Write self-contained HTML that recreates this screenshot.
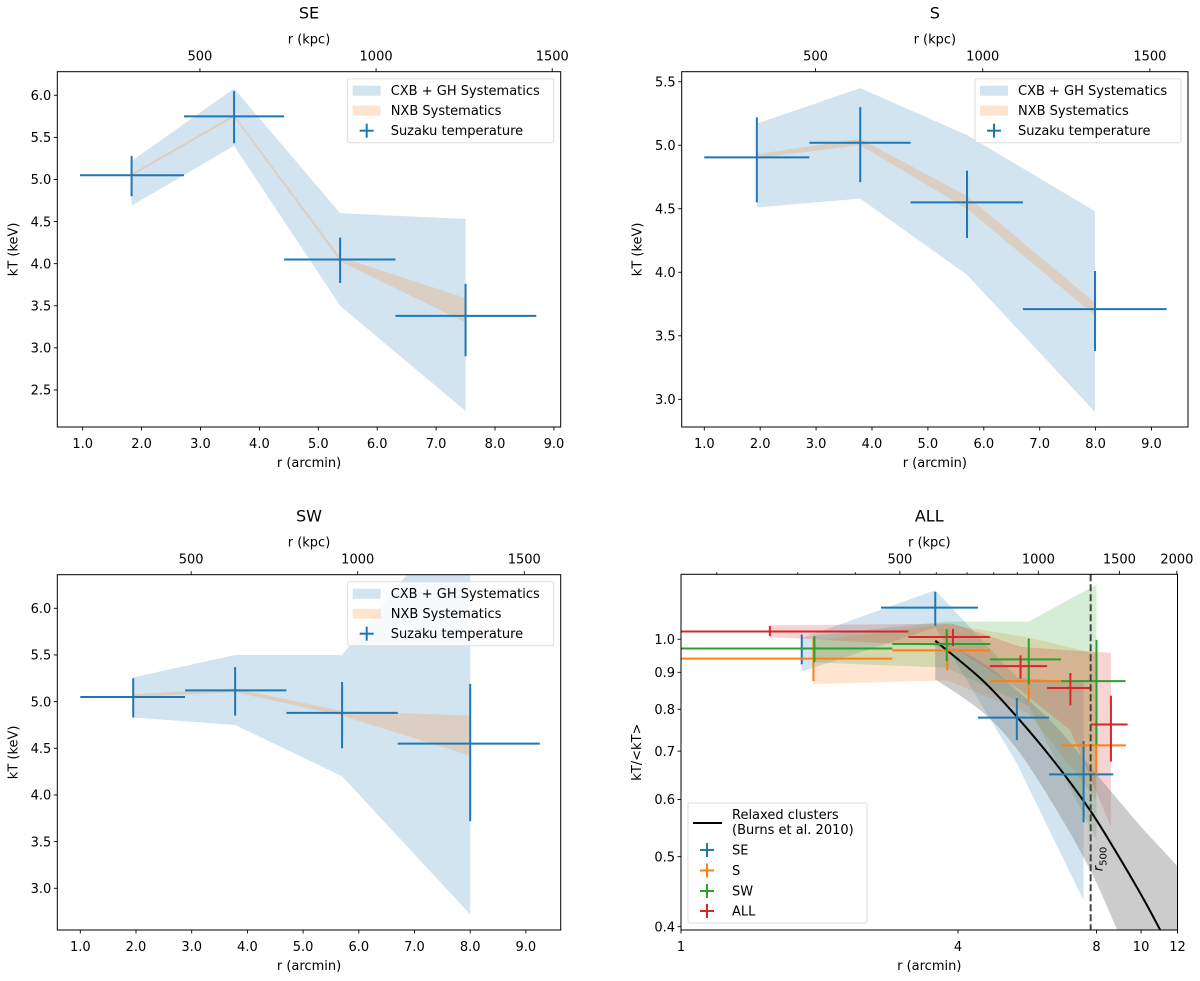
<!DOCTYPE html>
<html><head><meta charset="utf-8"><title>Temperature profiles</title>
<style>
html,body{margin:0;padding:0;background:#fff;width:1200px;height:981px;overflow:hidden;}
svg{display:block;font-family:"DejaVu Sans","Liberation Sans",sans-serif;}
</style></head>
<body>
<svg id="fig" width="1200" height="981" viewBox="0 0 1200 981" xmlns="http://www.w3.org/2000/svg"></svg>
<script>
// ---------- DATA ----------
const xTicksLin = [1,2,3,4,5,6,7,8,9];
const kpcTicks = [500,1000,1500];
const kpcPerArcmin = 167.2;

const SE_r = [1.83,3.57,5.37,7.5];
const SE_rLo = [0.955,2.72,4.42,6.31];
const SE_rHi = [2.72,4.42,6.31,8.7];
const SE_kT = [5.05,5.75,4.05,3.38];
const SE_kTLo = [4.80,5.43,3.77,2.90];
const SE_kTHi = [5.28,6.05,4.31,3.76];
const SE_cxbLo = [4.69,5.40,3.50,2.25];
const SE_cxbHi = [5.22,6.08,4.60,4.53];
const SE_nxbLo = [5.04,5.74,4.03,3.30];
const SE_nxbHi = [5.07,5.77,4.08,3.59];
const SE_yTicks = [2.5,3.0,3.5,4.0,4.5,5.0,5.5,6.0];

const S_r = [1.94,3.79,5.7,7.99];
const S_rLo = [1.0,2.88,4.69,6.7];
const S_rHi = [2.88,4.69,6.7,9.27];
const S_kT = [4.905,5.02,4.55,3.71];
const S_kTLo = [4.55,4.71,4.27,3.38];
const S_kTHi = [5.22,5.30,4.80,4.01];
const S_cxbLo = [4.51,4.58,3.98,2.90];
const S_cxbHi = [5.17,5.45,5.08,4.48];
const S_nxbLo = [4.90,5.00,4.50,3.66];
const S_nxbHi = [4.93,5.05,4.60,3.76];
const S_yTicks = [3.0,3.5,4.0,4.5,5.0,5.5];

const SW_r = [1.95,3.78,5.7,8.0];
const SW_rLo = [1.0,2.88,4.7,6.7];
const SW_rHi = [2.88,4.7,6.7,9.25];
const SW_kT = [5.05,5.12,4.88,4.55];
const SW_kTLo = [4.83,4.85,4.50,3.72];
const SW_kTHi = [5.25,5.37,5.21,5.19];
const SW_cxbLo = [4.83,4.75,4.20,2.72];
const SW_cxbHi = [5.26,5.50,5.50,7.20];
const SW_nxbLo = [5.05,5.10,4.85,4.42];
const SW_nxbHi = [5.08,5.14,4.90,4.85];
const SW_yTicks = [3.0,3.5,4.0,4.5,5.0,5.5,6.0];

// ALL panel (normalised)
const ALL_xTicks = [1,4,8,10,12];
const ALL_yTicks = [0.4,0.5,0.6,0.7,0.8,0.9,1.0];
const ALL_kpcMajor = [500,1000,1500,2000];
const ALL_kpcMinor = [200,300,400,600,700,800,900];

const nSE_v = [0.971,1.106,0.779,0.650];
const nSE_lo = [0.923,1.044,0.725,0.558];
const nSE_hi = [1.015,1.163,0.829,0.723];
const nSE_bLo = [0.902,1.038,0.673,0.435];
const nSE_bHi = [1.004,1.169,0.885,0.871];

const nS_v = [0.940,0.965,0.875,0.713];
const nS_lo = [0.875,0.905,0.822,0.650];
const nS_hi = [1.005,1.020,0.922,0.772];
const nS_bLo = [0.867,0.877,0.790,0.600];
const nS_bHi = [0.994,1.050,1.005,0.955];

const nSW_v = [0.971,0.985,0.938,0.875];
const nSW_lo = [0.929,0.933,0.866,0.715];
const nSW_hi = [1.010,1.033,1.002,0.998];
const nSW_bLo = [0.929,0.913,0.808,0.527];
const nSW_bHi = [1.012,1.058,1.058,1.190];

const nALL_r = [1.56,3.90,5.47,7.02,8.60];
const nALL_rLo = [1.0,3.12,4.69,6.25,7.78];
const nALL_rHi = [3.12,4.69,6.25,7.78,9.35];
const nALL_v = [1.025,1.007,0.918,0.856,0.762];
const nALL_lo = [1.010,0.978,0.882,0.810,0.677];
const nALL_hi = [1.043,1.034,0.950,0.898,0.835];
const nALL_bLo = [1.007,0.976,0.850,0.748,0.550];
const nALL_bHi = [1.045,1.051,0.976,0.965,0.958];

const burns_r = [3.57,4.5,5.37,6.5,7.77,9.0,10.0,11.0,12.0];
const burns_v = [0.995,0.880,0.781,0.675,0.578,0.497,0.443,0.396,0.355];
const burns_lo = [0.880,0.795,0.705,0.585,0.478,0.388,0.335,0.292,0.260];
const burns_hi = [1.000,0.930,0.850,0.760,0.665,0.595,0.550,0.515,0.485];
const r500 = 7.77;

// ---------- HELPERS ----------
const NS = "http://www.w3.org/2000/svg";
const svg = document.getElementById('fig');
function mk(tag, attrs, parent){
  const e = document.createElementNS(NS, tag);
  for (const k in attrs) e.setAttribute(k, attrs[k]);
  (parent||svg).appendChild(e);
  return e;
}
function txt(str, x, y, size, anchor, parent, name){
  const t = mk('text', {x:x, y:y, 'font-size':size, 'text-anchor':anchor||'middle', fill:'#000'}, parent);
  t.textContent = str;
  
  
  return t;
}
const C = {blue:'#1f77b4', orange:'#ff7f0e', green:'#2ca02c', red:'#d62728'};

function smoothPath(pts, start){
  let d = (start ? 'M' : 'L') + pts[0][0].toFixed(2) + ' ' + pts[0][1].toFixed(2);
  for (let i=0;i<pts.length-1;i++){
    const p0 = pts[i-1]||pts[i], p1 = pts[i], p2 = pts[i+1], p3 = pts[i+2]||pts[i+1];
    const c1 = [p1[0]+(p2[0]-p0[0])/6, p1[1]+(p2[1]-p0[1])/6];
    const c2 = [p2[0]-(p3[0]-p1[0])/6, p2[1]-(p3[1]-p1[1])/6];
    d += 'C' + c1[0].toFixed(2)+' '+c1[1].toFixed(2)+' '+c2[0].toFixed(2)+' '+c2[1].toFixed(2)+' '+p2[0].toFixed(2)+' '+p2[1].toFixed(2);
  }
  return d;
}

function band(g, xs, lo, hi, X, Y, color, op, name, smooth){
  let d = '';
  if (smooth){
    const top = xs.map((x,i)=>[X(x),Y(hi[i])]);
    const bot = xs.map((x,i)=>[X(x),Y(lo[i])]).reverse();
    d = smoothPath(top, true) + smoothPath(bot, false) + 'Z';
  } else {
    xs.forEach((x,i)=>{ d += (i?'L':'M') + X(x).toFixed(2) + ' ' + Y(hi[i]).toFixed(2); });
    for (let i=xs.length-1;i>=0;i--) d += 'L' + X(xs[i]).toFixed(2) + ' ' + Y(lo[i]).toFixed(2);
    d += 'Z';
  }
  const p = mk('path', {d:d, fill:color, 'fill-opacity':op, stroke:'none'}, g);
  
  
}
function errbar(g, x, xl, xh, y, yl, yh, X, Y, color, name){
  const grp = mk('g', {stroke:color, 'stroke-width':2, fill:'none'}, g);
  
  
  const h = mk('line', {x1:X(xl), x2:X(xh), y1:Y(y), y2:Y(y)}, grp);
  
  
  const v = mk('line', {x1:X(x), x2:X(x), y1:Y(yl), y2:Y(yh)}, grp);
  
  
}
function frame(g, L, R, T, B, name){
  const r = mk('rect', {x:L, y:T, width:R-L, height:B-T, fill:'none', stroke:'#000', 'stroke-width':1}, g);
  
  
}
function tick(g, x1, y1, x2, y2, name){
  const l = mk('line', {x1:x1, y1:y1, x2:x2, y2:y2, stroke:'#000', 'stroke-width':0.9}, g);
  
  
}
function legendTop(g, R, T, pfx){
  const L = R - 206;
  const box = mk('rect', {x:L, y:T, width:206, height:64, rx:2, fill:'#fff', 'fill-opacity':0.8, stroke:'#ddd', 'stroke-width':1}, g);
  
  
  const p1 = mk('rect', {x:L+5, y:T+7, width:28, height:10, fill:C.blue, 'fill-opacity':0.2}, g);
  
  
  txt('CXB + GH Systematics', L+43, T+16.5, 13, 'start', g, pfx + '-legend-cxb-label');
  const p2 = mk('rect', {x:L+5, y:T+27, width:28, height:10, fill:C.orange, 'fill-opacity':0.2}, g);
  
  
  txt('NXB Systematics', L+43, T+36.5, 13, 'start', g, pfx + '-legend-nxb-label');
  const cx = L+19, cy = T+52;
  const m1 = mk('line', {x1:cx-7, x2:cx+7, y1:cy, y2:cy, stroke:C.blue, 'stroke-width':2}, g);
  
  
  const m2 = mk('line', {x1:cx, x2:cx, y1:cy-7, y2:cy+7, stroke:C.blue, 'stroke-width':2}, g);
  
  
  txt('Suzaku temperature', L+43, T+56.5, 13, 'start', g, pfx + '-legend-suzaku-label');
}

function linPanel(cfg){
  const {name,L,R,T,B,xd,yd,yTicks,title,d} = cfg;
  const g = mk('g', {});
  
  
  const X = v => L + (v - xd[0])/(xd[1]-xd[0])*(R-L);
  const Y = v => B - (v - yd[0])/(yd[1]-yd[0])*(B-T);
  const cp = mk('clipPath', {id:'cp-'+name}, g);
  mk('rect', {x:L, y:T, width:R-L, height:B-T}, cp);
  const plot = mk('g', {'clip-path':'url(#cp-'+name+')'}, g);
  
  
  band(plot, d.r, d.cxbLo, d.cxbHi, X, Y, C.blue, 0.2, name + '-cxb-band');
  band(plot, d.r, d.nxbLo, d.nxbHi, X, Y, C.orange, 0.2, name + '-nxb-band');
  d.r.forEach((r,i)=>{
    errbar(plot, r, d.rLo[i], d.rHi[i], d.kT[i], d.kTLo[i], d.kTHi[i], X, Y, C.blue, name + '-point-' + (i+1));
  });
  frame(g, L, R, T, B, name + '-axes-frame');
  xTicksLin.forEach(v=>{
    tick(g, X(v), B, X(v), B+3.5, name + '-x-tick');
    txt(v.toFixed(1), X(v), B+21, 13, 'middle', g, name + '-x-tick-label');
  });
  yTicks.forEach(v=>{
    tick(g, L-3.5, Y(v), L, Y(v), name + '-y-tick');
    txt(v.toFixed(1), L-6, Y(v)+4.7, 13, 'end', g, name + '-y-tick-label');
  });
  kpcTicks.forEach(k=>{
    const x = X(k/kpcPerArcmin);
    tick(g, x, T-3.5, x, T, name + '-kpc-tick');
    txt(String(k), x, T-11, 13, 'middle', g, name + '-kpc-tick-label');
  });
  txt('r (arcmin)', (L+R)/2, B+40, 13, 'middle', g, name + '-x-axis-title');
  txt('r (kpc)', (L+R)/2, T-28, 13, 'middle', g, name + '-top-axis-title');
  txt(title, (L+R)/2, T-53, 16, 'middle', g, name + '-title');
  const yl = txt('kT (keV)', 0, 0, 13, 'middle', g, name + '-y-axis-title');
  yl.setAttribute('transform', 'translate(' + (L-40) + ',' + ((T+B)/2) + ') rotate(-90)');
  legendTop(g, R-7, T+7, name);
}

linPanel({name:'se', L:57.3, R:560.7, T:71.7, B:427, xd:[0.569,9.115], yd:[2.06,6.28], yTicks:SE_yTicks, title:'SE',
  d:{r:SE_r, rLo:SE_rLo, rHi:SE_rHi, kT:SE_kT, kTLo:SE_kTLo, kTHi:SE_kTHi, cxbLo:SE_cxbLo, cxbHi:SE_cxbHi, nxbLo:SE_nxbLo, nxbHi:SE_nxbHi}});
linPanel({name:'s', L:681.7, R:1188, T:71.7, B:427, xd:[0.596,9.653], yd:[2.782,5.579], yTicks:S_yTicks, title:'S',
  d:{r:S_r, rLo:S_rLo, rHi:S_rHi, kT:S_kT, kTLo:S_kTLo, kTHi:S_kTHi, cxbLo:S_cxbLo, cxbHi:S_cxbHi, nxbLo:S_nxbLo, nxbHi:S_nxbHi}});
linPanel({name:'sw', L:57.3, R:560.7, T:574.7, B:930, xd:[0.587,9.625], yd:[2.553,6.36], yTicks:SW_yTicks, title:'SW',
  d:{r:SW_r, rLo:SW_rLo, rHi:SW_rHi, kT:SW_kT, kTLo:SW_kTLo, kTHi:SW_kTHi, cxbLo:SW_cxbLo, cxbHi:SW_cxbHi, nxbLo:SW_nxbLo, nxbHi:SW_nxbHi}});

// ---------- ALL panel (log-log) ----------
(function(){
  const L=681, R=1177.5, T=574.3, B=930;
  const lx0=0, lx1=Math.log10(12), ly0=Math.log10(0.3958), ly1=Math.log10(1.23);
  const X = v => L + (Math.log10(v)-lx0)/(lx1-lx0)*(R-L);
  const Y = v => B - (Math.log10(v)-ly0)/(ly1-ly0)*(B-T);
  const g = mk('g', {});
  
  
  const cp = mk('clipPath', {id:'cp-all'}, g);
  mk('rect', {x:L, y:T, width:R-L, height:B-T}, cp);
  const plot = mk('g', {'clip-path':'url(#cp-all)'}, g);
  
  

  band(plot, SE_r, nSE_bLo, nSE_bHi, X, Y, C.blue, 0.2, 'all-se-band');
  band(plot, S_r, nS_bLo, nS_bHi, X, Y, C.orange, 0.2, 'all-s-band');
  band(plot, SW_r, nSW_bLo, nSW_bHi, X, Y, C.green, 0.2, 'all-sw-band');
  band(plot, nALL_r, nALL_bLo, nALL_bHi, X, Y, C.red, 0.2, 'all-all-band');
  band(plot, burns_r, burns_lo, burns_hi, X, Y, '#808080', 0.4, 'burns-band', true);

  const d = smoothPath(burns_r.map((r,i)=>[X(r),Y(burns_v[i])]), true);
  const bl = mk('path', {d:d, fill:'none', stroke:'#000', 'stroke-width':2}, plot);
  
  

  SE_r.forEach((r,i)=>{ errbar(plot, r, SE_rLo[i], SE_rHi[i], nSE_v[i], nSE_lo[i], nSE_hi[i], X, Y, C.blue, 'all-se-point-'+(i+1)); });
  S_r.forEach((r,i)=>{ errbar(plot, r, S_rLo[i], S_rHi[i], nS_v[i], nS_lo[i], nS_hi[i], X, Y, C.orange, 'all-s-point-'+(i+1)); });
  SW_r.forEach((r,i)=>{ errbar(plot, r, SW_rLo[i], SW_rHi[i], nSW_v[i], nSW_lo[i], nSW_hi[i], X, Y, C.green, 'all-sw-point-'+(i+1)); });
  nALL_r.forEach((r,i)=>{ errbar(plot, r, nALL_rLo[i], nALL_rHi[i], nALL_v[i], nALL_lo[i], nALL_hi[i], X, Y, C.red, 'all-all-point-'+(i+1)); });

  const rl = mk('line', {x1:X(r500), x2:X(r500), y1:T, y2:B, stroke:'#444', 'stroke-width':2, 'stroke-dasharray':'7,3'}, plot);
  
  
  const rt = mk('text', {'font-size':13, 'text-anchor':'middle', fill:'#000', transform:'translate(' + (X(r500)+12) + ',859) rotate(-90)'}, g);
  
  
  rt.innerHTML = '<tspan font-style="italic">r</tspan><tspan font-size="10" dy="4">500</tspan>';

  frame(g, L, R, T, B, 'all-axes-frame');
  ALL_xTicks.forEach(v=>{
    tick(g, X(v), B, X(v), B+3.5, 'all-x-tick');
    txt(String(v), X(v), B+21, 13, 'middle', g, 'all-x-tick-label');
  });
  ALL_yTicks.forEach(v=>{
    tick(g, L-3.5, Y(v), L, Y(v), 'all-y-tick');
    txt(v.toFixed(1), L-6, Y(v)+4.7, 13, 'end', g, 'all-y-tick-label');
  });
  ALL_kpcMajor.forEach(k=>{
    const x = X(k/kpcPerArcmin);
    tick(g, x, T-3.5, x, T, 'all-kpc-tick');
    txt(String(k), x, T-11, 13, 'middle', g, 'all-kpc-tick-label');
  });
  ALL_kpcMinor.forEach(k=>{
    const x = X(k/kpcPerArcmin);
    tick(g, x, T-2, x, T, 'all-kpc-minor-tick');
  });
  txt('r (arcmin)', (L+R)/2, B+40, 13, 'middle', g, 'all-x-axis-title');
  txt('r (kpc)', (L+R)/2, T-28, 13, 'middle', g, 'all-top-axis-title');
  txt('ALL', (L+R)/2, T-53, 16, 'middle', g, 'all-title');
  const yl = txt('kT/<kT>', 0, 0, 13, 'middle', g, 'all-y-axis-title');
  yl.setAttribute('transform', 'translate(' + (L-40) + ',' + ((T+B)/2) + ') rotate(-90)');

  const lg = mk('g', {}, g);
  
  
  const box = mk('rect', {x:688, y:803, width:179, height:120, rx:2, fill:'#fff', 'fill-opacity':0.8, stroke:'#ddd', 'stroke-width':1}, lg);
  
  
  const ll = mk('line', {x1:693, x2:722, y1:823, y2:823, stroke:'#000', 'stroke-width':2}, lg);
  
  
  txt('Relaxed clusters', 732, 819, 13, 'start', lg, 'legend-burns-label');
  txt('(Burns et al. 2010)', 732, 834, 13, 'start', lg, 'legend-burns-ref');
  const entries = [['SE',C.blue,850],['S',C.orange,870.5],['SW',C.green,891],['ALL',C.red,911]];
  entries.forEach(e=>{
    const h = mk('line', {x1:700, x2:714, y1:e[2], y2:e[2], stroke:e[1], 'stroke-width':2}, lg);
    
    
    const v = mk('line', {x1:707, x2:707, y1:e[2]-7, y2:e[2]+7, stroke:e[1], 'stroke-width':2}, lg);
    
    
    txt(e[0], 732, e[2]+4.7, 13, 'start', lg, 'legend-label-' + e[0].toLowerCase());
  });
})();
</script>
</body></html>
